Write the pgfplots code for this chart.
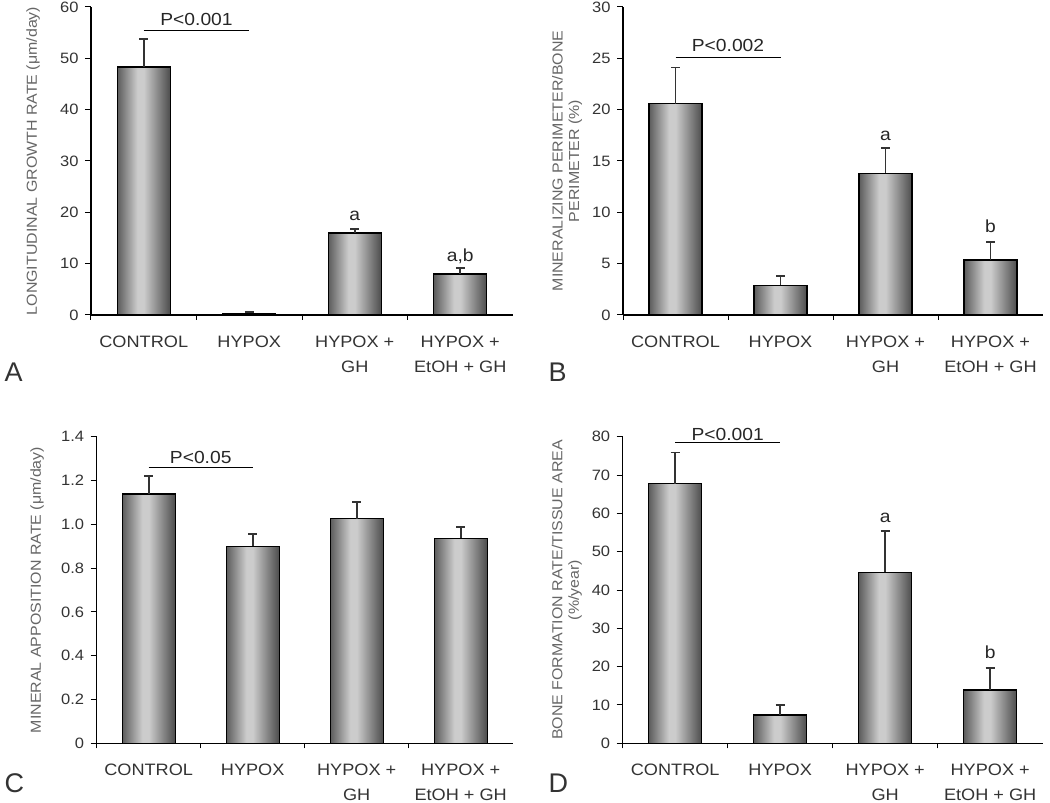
\documentclass[border=0pt]{standalone}
\usepackage{pgfplots}
\pgfplotsset{compat=1.18}
\usepackage{fontspec}
\setmainfont[FakeStretch=1.1]{Liberation Sans}
\newfontfamily\letterfont{Liberation Sans}
\definecolor{bdark}{gray}{0.36}
\definecolor{blight}{gray}{0.80}
\definecolor{bdarkr}{gray}{0.30}
\pgfdeclarehorizontalshading{barshade}{100bp}{color(0bp)=(bdark); color(25bp)=(bdark); color(44bp)=(blight); color(50bp)=(blight); color(75bp)=(bdarkr); color(100bp)=(bdarkr)}
\newcommand\tickfont{\fontsize{15}{17}\selectfont}
\newcommand\catfont{\fontsize{16.5}{25.5}\selectfont}
\newcommand\labfont{\fontsize{14.5}{16.5}\selectfont}
\newcommand\pfont{\fontsize{17.5}{20}\selectfont}
\pgfplotsset{
  panel/.style={
    scale only axis,
    axis x line*=bottom, axis y line*=left,
    axis line style={-, black, line width=1.3pt},
    xmin=0.5, xmax=4.5, ymin=0,
    xtick={1,2,3,4},
    xticklabels={CONTROL,HYPOX,{HYPOX +\\GH},{HYPOX +\\EtOH + GH}},
    minor xtick={0.5,1.5,2.5,3.5},
    tick align=outside,
    major tick length=6pt, minor tick length=5pt,
    tick style={black, line width=1pt},
    every major x tick/.append style={draw=none},
    xticklabel style={font=\catfont, align=center, text=black!80, yshift=-11pt},
    yticklabel style={font=\tickfont, text=black!80, xshift=-3pt},
    every axis y label/.style={rotate=90, anchor=center, font=\labfont, text=black!60, align=center},
    /pgf/number format/assume math mode=true,
    ybar, bar width=53pt, bar shift=0pt,
    clip=false,
  },
  bars/.style={draw=black, line width=1.3pt, shading=barshade,
    error bars/.cd, y dir=plus, y explicit,
    error bar style={line width=1.8pt, black!80},
    error mark options={rotate=90, line width=1.8pt, black!80, mark size=4.5pt}},
}
\begin{document}
\begin{tikzpicture}
\useasboundingbox (0,0) rectangle (1050pt,803pt);
% Panel A
\begin{axis}[panel, at={(91pt,488pt)}, anchor=south west, width=422pt, height=308pt,
  ymax=60, ytick={0,10,20,30,40,50,60},
  ylabel={LONGITUDINAL GROWTH RATE (μm/day)},
  ylabel style={at={(axis description cs:-0.137,0.5)}}]
\addplot[bars] coordinates {(1,48.3) +- (0,5.4)};
\addplot[bars] coordinates {(2,0.3) +- (0,0.3)};
\addplot[bars] coordinates {(3,16.0) +- (0,0.8)};
\addplot[bars] coordinates {(4,8.0) +- (0,1.2)};
\draw[line width=1.2pt] (axis cs:1,55.4) -- (axis cs:2,55.4);
\node[anchor=base, font=\pfont, text=black!85] at (axis cs:1.5,56.3) {P<0.001};
\node[anchor=base, font=\pfont, text=black!85] at (axis cs:3,18.5) {a};
\node[anchor=base, font=\pfont, text=black!85] at (axis cs:4,10.5) {a,b};
\end{axis}
% Panel B
\begin{axis}[panel, at={(623pt,488pt)}, anchor=south west, width=420pt, height=308pt,
  ymax=30, ytick={0,5,10,15,20,25,30},
  ylabel={MINERALIZING PERIMETER/BONE\\PERIMETER (\%)},
  ylabel style={at={(axis description cs:-0.133,0.5)}}]
\addplot[bars] coordinates {(1,20.6) +- (0,3.5)};
\addplot[bars] coordinates {(2,2.9) +- (0,0.9)};
\addplot[bars] coordinates {(3,13.8) +- (0,2.5)};
\addplot[bars] coordinates {(4,5.35) +- (0,1.75)};
\draw[line width=1.2pt] (axis cs:1,25.06) -- (axis cs:2,25.06);
\node[anchor=base, font=\pfont, text=black!85] at (axis cs:1.5,25.65) {P<0.002};
\node[anchor=base, font=\pfont, text=black!85] at (axis cs:3,17.0) {a};
\node[anchor=base, font=\pfont, text=black!85] at (axis cs:4,8.0) {b};
\end{axis}
% Panel C
\begin{axis}[panel, at={(96.7pt,59.7pt)}, anchor=south west, width=416pt, height=306.6pt,
  ymax=1.4, ytick={0,0.2,0.4,0.6,0.8,1.0,1.2,1.4},
  yticklabels={0,0.2,0.4,0.6,0.8,1.0,1.2,1.4},
  ylabel={MINERAL APPOSITION RATE (μm/day)},
  ylabel style={at={(axis description cs:-0.1435,0.5)}}]
\addplot[bars] coordinates {(1,1.138) +- (0,0.082)};
\addplot[bars] coordinates {(2,0.90) +- (0,0.056)};
\addplot[bars] coordinates {(3,1.025) +- (0,0.078)};
\addplot[bars] coordinates {(4,0.936) +- (0,0.05)};
\draw[line width=1.2pt] (axis cs:1,1.258) -- (axis cs:2,1.258);
\node[anchor=base, font=\pfont, text=black!85] at (axis cs:1.5,1.2785) {P<0.05};
\end{axis}
% Panel D
\begin{axis}[panel, at={(622.7pt,59.7pt)}, anchor=south west, width=420pt, height=306.6pt,
  ymax=80, ytick={0,10,20,30,40,50,60,70,80},
  ylabel={BONE FORMATION RATE/TISSUE AREA\\(\%/year)},
  ylabel style={at={(axis description cs:-0.133,0.5)}}]
\addplot[bars] coordinates {(1,67.7) +- (0,8.2)};
\addplot[bars] coordinates {(2,7.4) +- (0,2.6)};
\addplot[bars] coordinates {(3,44.6) +- (0,10.8)};
\addplot[bars] coordinates {(4,13.9) +- (0,5.8)};
\draw[line width=1.2pt] (axis cs:1,78.5) -- (axis cs:2,78.5);
\node[anchor=base, font=\pfont, text=black!85] at (axis cs:1.5,79.1) {P<0.001};
\node[anchor=base, font=\pfont, text=black!85] at (axis cs:3,57.6) {a};
\node[anchor=base, font=\pfont, text=black!85] at (axis cs:4,22.0) {b};
\end{axis}
\node[anchor=base west, font=\letterfont\fontsize{27}{27}\selectfont, text=black!80] at (1pt,421pt) {A};
\node[anchor=base west, font=\letterfont\fontsize{27}{27}\selectfont, text=black!80] at (545pt,421pt) {B};
\node[anchor=base west, font=\letterfont\fontsize{27}{27}\selectfont, text=black!80] at (1pt,10pt) {C};
\node[anchor=base west, font=\letterfont\fontsize{27}{27}\selectfont, text=black!80] at (545pt,10pt) {D};
\end{tikzpicture}
\end{document}
